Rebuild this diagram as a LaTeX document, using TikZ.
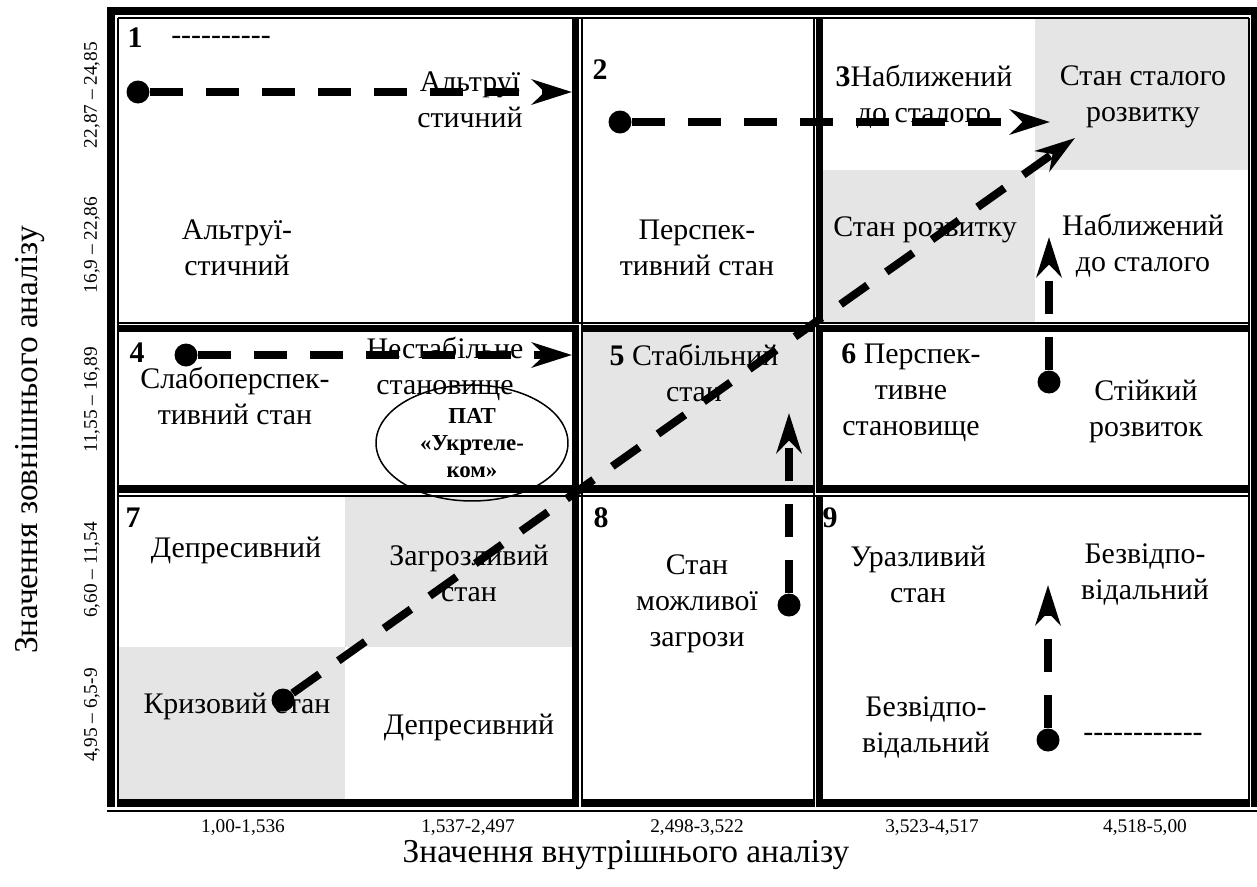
\documentclass[tikz,border=0pt]{standalone}
\usepackage{fontspec}
\setmainfont{Liberation Serif}[Ligatures=TeXOff]
\usetikzlibrary{arrows.meta,shapes.geometric,positioning}
\definecolor{cellgray}{RGB}{229,229,229}

\begin{document}
\begin{tikzpicture}[x=0.02cm, y=-0.02cm,
  lbl/.style={align=center, font=\fontsize{17}{20.5}\selectfont, inner sep=0pt},
  num/.style={font=\fontsize{17}{20.5}\selectfont\bfseries, inner sep=0pt},
  axis/.style={font=\fontsize{11}{13}\selectfont, inner sep=0pt},
  title/.style={font=\fontsize{19}{22}\selectfont, inner sep=0pt},
  dot/.style={circle, fill=black, minimum size=0.46cm, inner sep=0pt},
  flow/.style={line width=0.16cm, dash pattern=on 0.66cm off 0.46cm,
    -{Stealth[length=0.8cm, width=0.5cm, inset=0.25cm]}},
  thickln/.style={line width=0.15cm},
  thinln/.style={line width=0.04cm},
  gapln/.style={white, line width=0.035cm}]

\useasboundingbox (0,0) rectangle (1257,886);

\fill[cellgray] (1035,17) rectangle (1248,170);
\fill[cellgray] (823,170) rectangle (1035,323);
\fill[cellgray] (581,332) rectangle (816,485);
\fill[cellgray] (345,495) rectangle (572,647);
\fill[cellgray] (117,647) rectangle (345,799);

\foreach \x in {111,575.5,819.5,1254}
  \draw[thickln] (\x,7) -- (\x,807);
\foreach \y in {11,328.5,489,803}
  \draw[thickln] (107,\y) -- (1257,\y);
\foreach \x in {116.2,580,815,1250}
  \draw[gapln] (\x,15) -- (\x,807);
\foreach \y in {16.2,324.5,494,809}
  \draw[gapln] (115,\y) -- (1251,\y);
\foreach \x in {117.5,581.5,813.5,1248.5}
  \draw[thinln] (\x,17.5) -- (\x,807);
\foreach \y in {17.5,323,495.5}
  \draw[thinln] (117.5,\y) -- (1248.5,\y);
\draw[thinln] (107,811) -- (1257,811);

\node[num] (n1) at (135,38) {1};
\node[lbl] (dash1) at (221,40) {----------};
\node[lbl] (alt1) at (470,100) {Альтруї\\стичний};
\node[lbl] (alt2) at (237,248) {Альтруї-\\стичний};

\node[num] (n2) at (600,70) {2};
\node[lbl] (persp) at (697,248) {Перспек-\\тивний стан};

\node[lbl] (nabl1) at (924,97) {{\bfseries 3}Наближений\\до сталого};
\node[lbl] (stalyi) at (1143,97) {Стан сталого\\розвитку};
\node[lbl] (rozv) at (925,230) {Стан розвитку};
\node[lbl] (nabl2) at (1143,246) {Наближений\\до сталого};

\node[num] (n4) at (137,353) {4};
\node[lbl] (nestab) at (445,369) {Нестабільне\\становище};
\node[lbl] (slabo) at (235,396) {Слабоперспек-\\тивний стан};

\node[lbl] (stab) at (694,373) {{\bfseries 5} Стабільний\\стан};

\node[lbl] (persp6) at (911,393) {{\bfseries 6} Перспек-\\тивне\\становище};
\node[lbl] (stiik) at (1146,411) {Стійкий\\розвиток};

\node[num] (n7) at (133,518) {7};
\node[lbl] (depr1) at (236,550) {Депресивний};
\node[lbl] (zagr) at (469,573) {Загрозливий\\стан};
\node[lbl] (kryz) at (237,706) {Кризовий стан};
\node[lbl] (depr2) at (469,727) {Депресивний};

\node[num] (n8) at (601,518) {8};
\node[lbl] (mozhl) at (697,604) {Стан\\можливої\\загрози};

\node[num] (n9) at (830,518) {9};
\node[lbl] (urazl) at (918,574) {Уразливий\\стан};
\node[lbl] (bezv1) at (1145,574) {Безвідпо-\\відальний};
\node[lbl] (bezv2) at (926,727) {Безвідпо-\\відальний};
\node[lbl] (dash9) at (1143,737) {------------};

\node[ellipse, draw, line width=0.03cm, minimum width=3.84cm, minimum height=2.32cm,
  inner sep=0pt, align=center, font=\fontsize{13}{15.5}\selectfont\bfseries]
  (pat) at (472,443) {ПАТ\\«Укртеле-\\ком»};

\node[axis] (x1) at (243,828) {1,00-1,536};
\node[axis] (x2) at (468,828) {1,537-2,497};
\node[axis] (x3) at (697,828) {2,498-3,522};
\node[axis] (x4) at (932,828) {3,523-4,517};
\node[axis] (x5) at (1145,828) {4,518-5,00};
\node[axis, rotate=90] (y1) at (92,95) {22,87 – 24,85};
\node[axis, rotate=90] (y2) at (92,245) {16,9 – 22,86};
\node[axis, rotate=90] (y3) at (92,400) {11,55 – 16,89};
\node[axis, rotate=90] (y4) at (92,570) {6,60 – 11,54};
\node[axis, rotate=90] (y5) at (92,715) {4,95 – 6,5-9};
\node[title] (xtitle) at (626,855) {Значення внутрішнього аналізу};
\node[title, rotate=90] (ytitle) at (30,440) {Значення зовнішнього аналізу};

\node[dot] (s1) at (138,92) {};
\coordinate (t1) at (572,92);
\node[dot] (s2) at (620,122) {};
\coordinate (t2) at (1050,122);
\node[dot] (s4) at (186,355) {};
\coordinate (t4) at (572,355);
\node[dot] (s7) at (283,700) {};
\coordinate (t7) at (1075,138);
\node[dot] (s8) at (789,605) {};
\coordinate (t8) at (789,413);
\node[dot] (s6) at (1049,382) {};
\coordinate (t6) at (1049,237);
\node[dot] (s9) at (1048,740) {};
\coordinate (t9) at (1048,585);

\draw[flow] (s1) -- (t1);
\draw[flow] (s2) -- (t2);
\draw[flow] (s4) -- (t4);
\draw[flow] (s7) -- (t7);
\draw[flow] (s8) -- (t8);
\draw[flow] (s6) -- (t6);
\draw[flow] (s9) -- (t9);
\end{tikzpicture}
\end{document}
